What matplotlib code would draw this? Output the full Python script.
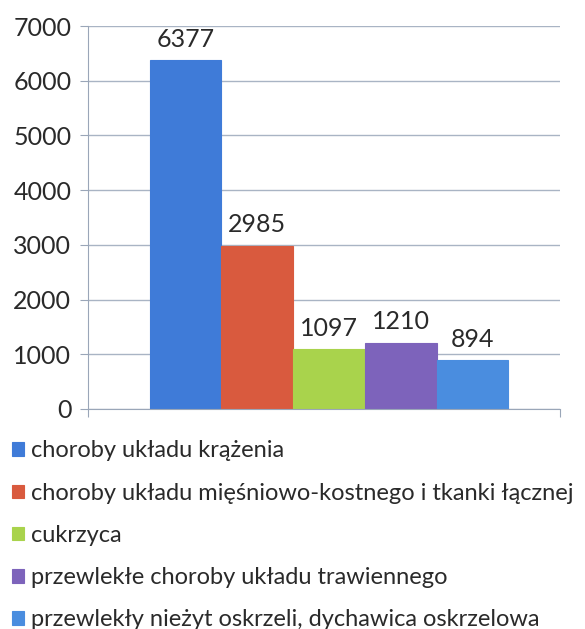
import matplotlib
matplotlib.use("Agg")
import matplotlib.pyplot as plt

plt.rcParams['font.family'] = ['Lato', 'DejaVu Sans']

# data
categories = [
    "choroby układu krążenia",
    "choroby układu mięśniowo-kostnego i tkanki łącznej",
    "cukrzyca",
    "przewlekłe choroby układu trawiennego",
    "przewlekły nieżyt oskrzeli, dychawica oskrzelowa",
]
values = [6377, 2985, 1097, 1210, 894]
colors = ["#3f7bd8", "#d95a3e", "#a9d34c", "#7d63bb", "#4a8ddf"]
yticks = [0, 1000, 2000, 3000, 4000, 5000, 6000, 7000]

fig = plt.figure(figsize=(5.85, 6.29), dpi=100)
ax = fig.add_axes([88 / 585, 1 - 409 / 629, 472 / 585, 383 / 629])

bars = []
for i, (lab, v, c) in enumerate(zip(categories, values, colors)):
    b = ax.bar(i, v, width=1.0, color=c, edgecolor=c, linewidth=0.8, label=lab)
    bars.append(b)
    ax.text(i, v + 170, str(v), ha="center", va="bottom", fontsize=18, color="#2a2a2a")

ax.set_ylim(0, 7000)
ax.set_xlim(-1.36, 5.22)
ax.set_yticks(yticks)
ax.set_yticklabels([str(t) for t in yticks], fontsize=18, color="#2a2a2a")
ax.set_xticks([-1.36, 5.22])
ax.set_xticklabels([])
ax.tick_params(axis="x", length=6, color="#9aa6b8", direction="out")
ax.tick_params(axis="y", length=6, color="#9aa6b8", pad=6)
ax.grid(axis="y", color="#a9b4c4", linewidth=1.0)
ax.set_axisbelow(True)
for s in ["top", "right"]:
    ax.spines[s].set_visible(False)
ax.spines["left"].set_color("#9aa6b8")
ax.spines["bottom"].set_color("#9aa6b8")

fig.legend(handles=[b[0] for b in bars], labels=categories,
           loc="upper left", bbox_to_anchor=(0.005, 1 - 431 / 629),
           frameon=False, fontsize=17, handlelength=0.5, handleheight=0.5,
           handletextpad=0.3, labelspacing=0.9, borderaxespad=0)
for t in fig.legends[0].get_texts():
    t.set_color("#2a2a2a")

fig.savefig("out.png", dpi=100)
